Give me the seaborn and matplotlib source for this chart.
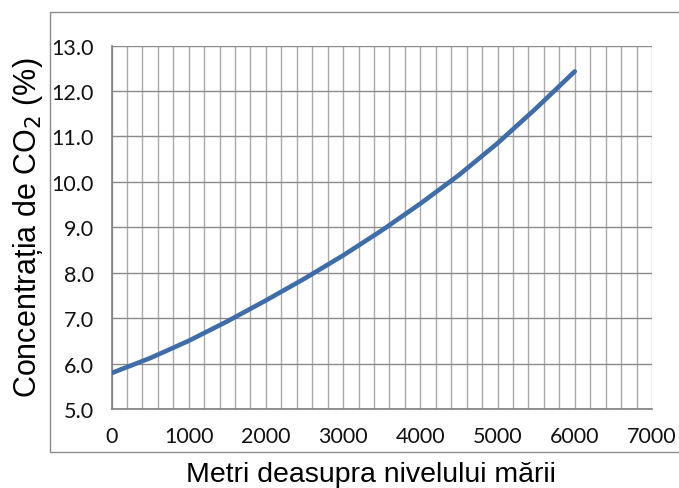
import matplotlib
matplotlib.use("Agg")
import matplotlib.pyplot as plt
from matplotlib.lines import Line2D
from matplotlib.ticker import MultipleLocator
import numpy as np
import pandas as pd
import seaborn as sns

# Altitude (m) and CO2 concentration (%)
altitude = [0, 500, 1000, 1500, 2000, 2500, 3000, 3500, 4000, 4500, 5000, 5500, 6000]
co2 = [5.79, 6.12, 6.50, 6.93, 7.39, 7.87, 8.38, 8.93, 9.52, 10.15, 10.85, 11.62, 12.43]

x_ticks = [0, 1000, 2000, 3000, 4000, 5000, 6000, 7000]
y_ticks = [5.0, 6.0, 7.0, 8.0, 9.0, 10.0, 11.0, 12.0, 13.0]

x_label = "Metri deasupra nivelului mării"
y_label = "Concentrația de CO$_2$ (%)"

df = pd.DataFrame({"alt": altitude, "co2": co2})

sns.set_style("white")
plt.rcParams["font.family"] = ["Liberation Sans", "DejaVu Sans"]

fig = plt.figure(figsize=(6.79, 4.89), dpi=100)
ax = fig.add_axes([111.5 / 679, 1 - 410 / 489, (652 - 111.5) / 679, (410 - 46.5) / 489])

sns.lineplot(data=df, x="alt", y="co2", ax=ax, color="#3E6DAA", linewidth=3.3,
             solid_capstyle="round", solid_joinstyle="round", zorder=5)

ax.set_xlim(0, 7000)
ax.set_ylim(5.0, 13.0)
ax.set_xticks(x_ticks)
ax.set_xticklabels([str(t) for t in x_ticks])
ax.set_yticks(y_ticks)
ax.set_yticklabels([f"{t:.1f}" for t in y_ticks])
ax.xaxis.set_minor_locator(MultipleLocator(200))

# grid: every 200 m vertically, every 1 % horizontally
ax.grid(which="major", axis="y", color="#8a8a8a", linewidth=1.0, zorder=1)
ax.grid(which="both", axis="x", color="#a9a9a9", linewidth=1.0, zorder=1)
ax.set_axisbelow(True)

for side in ["top", "right"]:
    ax.spines[side].set_visible(False)
for side in ["left", "bottom"]:
    ax.spines[side].set_color("#808080")
    ax.spines[side].set_linewidth(1.2)

ax.tick_params(axis="both", which="major", direction="out", length=4.5, width=1.0,
               color="#808080", labelsize=15.5, pad=8)
ax.tick_params(axis="x", which="minor", length=0)
for lab in ax.get_xticklabels() + ax.get_yticklabels():
    lab.set_fontfamily(["Lato", "DejaVu Sans"])
    lab.set_color("#111111")

ax.set_xlabel("")
ax.set_ylabel("")
fig.text(370.5 / 679, 1 - 482 / 489, x_label, fontsize=20.5, ha="center", va="baseline",
         color="#000000")
fig.text(28 / 679, 1 - 228 / 489, y_label, fontsize=22, ha="center", va="center",
         rotation=90, color="#000000")

# chart frame
fx0, fy0, fy1 = 49.5 / 679, 1 - 453 / 489, 1 - 12.5 / 489
frame_kw = dict(color="#8c8c8c", linewidth=1.0, transform=fig.transFigure)
fig.add_artist(Line2D([fx0, 1.0], [fy1, fy1], **frame_kw))
fig.add_artist(Line2D([fx0, 1.0], [fy0, fy0], **frame_kw))
fig.add_artist(Line2D([fx0, fx0], [fy0, fy1], **frame_kw))

fig.savefig("out.png", dpi=100)
